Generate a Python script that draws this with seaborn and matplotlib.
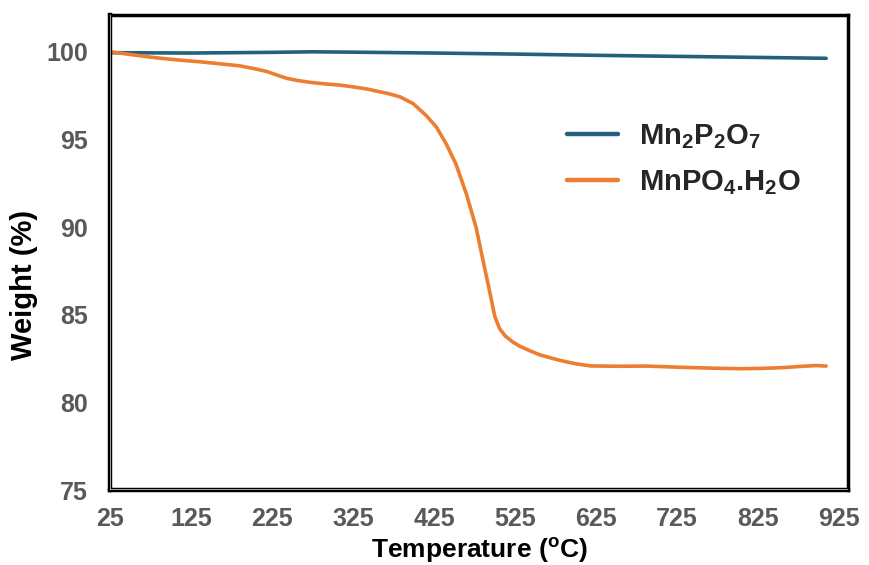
import matplotlib
matplotlib.use("Agg")
import matplotlib.pyplot as plt
import seaborn as sns
import pandas as pd

# ---- data ----
temp_mn2p2o7 = [25, 125, 225, 275, 325, 425, 525, 625, 725, 825, 909]
weight_mn2p2o7 = [99.95, 99.93, 99.97, 100.0, 99.98, 99.93, 99.87, 99.80, 99.74, 99.68, 99.63]

temp_mnpo4 = [25, 50, 74, 105, 136, 160, 185, 205, 219, 232, 243, 257, 272, 290, 309,
              325, 342, 358, 370, 383, 399, 415, 428, 440, 452, 465, 477, 485, 491,
              496, 500, 506, 513, 522, 531, 543, 555, 568, 580, 600, 618, 650, 688,
              730, 770, 805, 830, 855, 880, 897, 909]
weight_mnpo4 = [100.0, 99.85, 99.7, 99.55, 99.43, 99.32, 99.2, 99.02, 98.87, 98.66,
                98.49, 98.36, 98.26, 98.17, 98.1, 98.0, 97.88, 97.72, 97.6, 97.43,
                97.05, 96.38, 95.7, 94.75, 93.6, 91.88, 89.96, 88.2, 86.9, 85.8,
                84.9, 84.2, 83.78, 83.45, 83.2, 82.95, 82.72, 82.55, 82.4, 82.2,
                82.08, 82.06, 82.07, 82.0, 81.95, 81.92, 81.94, 81.98, 82.06, 82.1, 82.07]

x_ticks = [25, 125, 225, 325, 425, 525, 625, 725, 825, 925]
y_ticks = [75, 80, 85, 90, 95, 100]

lab1 = r'Mn$_\mathbf{2}$P$_\mathbf{2}$O$_\mathbf{7}$'
lab2 = r'MnPO$_\mathbf{4}$.H$_\mathbf{2}$O'

df = pd.concat([
    pd.DataFrame({'T': temp_mn2p2o7, 'W': weight_mn2p2o7, 'S': lab1}),
    pd.DataFrame({'T': temp_mnpo4, 'W': weight_mnpo4, 'S': lab2}),
], ignore_index=True)

sns.set_style('white')
plt.rcParams['font.family'] = ['Liberation Sans', 'DejaVu Sans']
plt.rcParams['mathtext.fontset'] = 'custom'
plt.rcParams['mathtext.bf'] = 'Liberation Sans:bold'
plt.rcParams['mathtext.rm'] = 'Liberation Sans:bold'
plt.rcParams['mathtext.it'] = 'Liberation Sans:bold'

fig = plt.figure(figsize=(8.7, 5.65), dpi=100)
ax = fig.add_axes([110/870, 75/565, 738/870, 475/565])

palette = {lab1: '#24607E', lab2: '#ED7D31'}
sns.lineplot(data=df, x='T', y='W', hue='S', palette=palette, sort=False,
             estimator=None, linewidth=2.6, ax=ax)

ax.set_xlim(25, 936)
ax.set_ylim(75, 102.1)
ax.set_xticks(x_ticks)
ax.set_yticks(y_ticks)
ax.set_xticklabels([str(t) for t in x_ticks])
ax.set_yticklabels([str(t) for t in y_ticks])

for sp in ['top', 'right']:
    ax.spines[sp].set_color('black')
    ax.spines[sp].set_linewidth(2.5)
for sp in ['left', 'bottom']:
    ax.spines[sp].set_color('black')
    ax.spines[sp].set_linewidth(3.2)
ax.axvline(25, color='#b0b0b0', lw=1.3, zorder=5)
ax.axhline(75, color='#b0b0b0', lw=1.3, zorder=5)

ax.tick_params(axis='both', which='both', direction='in', length=4, width=1,
               color='#b0b0b0', labelcolor='#595959', labelsize=18)
ax.tick_params(axis='y', pad=16)
ax.tick_params(axis='x', pad=12)
for lbl in ax.get_xticklabels() + ax.get_yticklabels():
    lbl.set_fontweight('bold')

ax.set_xlabel(r'Temperature ($^\mathregular{o}$C)', fontsize=19, fontweight='bold',
              color='black')
ax.xaxis.set_label_coords(0.5, -0.097)
ax.set_ylabel('Weight (%)', fontsize=21, fontweight='bold', color='black')
ax.yaxis.set_label_coords(-0.097, 0.432)

leg = ax.legend(loc='upper left', bbox_to_anchor=(0.584, 0.83), frameon=False,
                fontsize=21, handlelength=1.75, handletextpad=0.7, labelspacing=0.6)
for t in leg.get_texts():
    t.set_fontweight('bold')
for h in leg.get_lines():
    h.set_linewidth(3.2)

fig.savefig('out.png', dpi=100)
